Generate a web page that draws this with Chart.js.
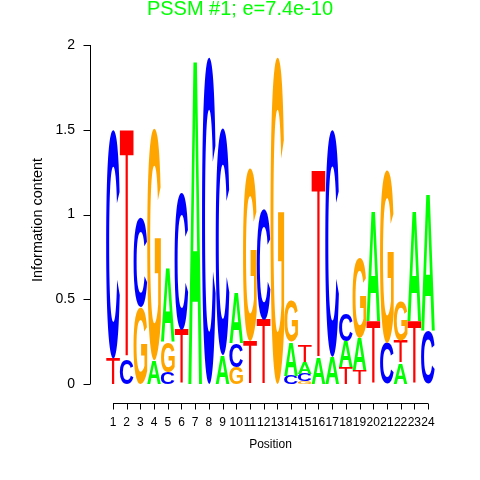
<!DOCTYPE html>
<html>
<head>
<meta charset="utf-8">
<script src="https://cdn.jsdelivr.net/npm/chart.js@4.4.0/dist/chart.umd.min.js"></script>
<style>
  html, body { margin: 0; padding: 0; background: #fff; }
</style>
</head>
<body>
<canvas id="logo" width="480" height="480"></canvas>
<script>
// data
const posities = ["1", "2", "3", "4", "5", "6", "7", "8", "9", "10", "11", "12",
                  "13", "14", "15", "16", "17", "18", "19", "20", "21", "22", "23", "24"];
const hoogteA = [0, 0, 0, 0.14, 0.44, 0, 1.93, 0, 0.17, 0.30, 0, 0, 0, 0.20, 0.07, 0.15, 0.16, 0.15, 0.19, 0.65, 0, 0.125, 0.65, 0.81];
const hoogteC = [1.35, 0.15, 0.53, 0, 0.07, 0.81, 0, 1.93, 1.34, 0.14, 0, 0.65, 0, 0.05, 0.045, 0, 1.34, 0.16, 0, 0, 0.24, 0, 0, 0.31];
const hoogteG = [0, 0, 0.45, 1.37, 0.18, 0, 0, 0, 0, 0.10, 1.02, 0, 1.93, 0.24, 0.015, 0, 0, 0, 0.47, 0, 1.02, 0.23, 0, 0];
const hoogteT = [0.15, 1.35, 0, 0, 0, 0.32, 0, 0, 0, 0, 0.25, 0.38, 0, 0, 0.10, 1.11, 0, 0.10, 0.08, 0.37, 0, 0.13, 0.37, 0];
const yTicks = [0, 0.5, 1, 1.5, 2];
const yTickLabels = ["0", "0.5", "1", "1.5", "2"];
const titel = "PSSM #1; e=7.4e-10";

const letterKleur = { A: "#00FF00", C: "#0000FF", G: "#FFA500", T: "#FF0000" };
// T is dunner in het origineel
const letterGewicht = { A: "bold", C: "bold", G: "bold", T: "normal" };

// stapel per positie, kleinste onderaan
const letters = ["A", "C", "G", "T"];
const hoogtes = [hoogteA, hoogteC, hoogteG, hoogteT];
const stapels = posities.map((p, i) =>
    letters.map((l, j) => ({ letter: l, h: hoogtes[j][i] })).sort((a, b) => a.h - b.h));

const datasets = [0, 1, 2, 3].map(r => ({
    label: "rang " + r,
    data: stapels.map(s => s[r].h),
    letters: stapels.map(s => s[r].letter),
    backgroundColor: "rgba(0,0,0,0)",
    borderWidth: 0,
    barPercentage: 1,
    categoryPercentage: 1
}));

function tekenLetter(ctx, l, x, y, w, h) {
    ctx.save();
    ctx.font = letterGewicht[l] + " 100px 'Liberation Sans'";
    const m = ctx.measureText(l);
    const gw = m.actualBoundingBoxLeft + m.actualBoundingBoxRight;
    const gh = m.actualBoundingBoxAscent + m.actualBoundingBoxDescent;
    ctx.translate(x, y);
    ctx.scale(w / gw, h / gh);
    ctx.fillStyle = letterKleur[l];
    ctx.textAlign = "left";
    ctx.textBaseline = "alphabetic";
    ctx.fillText(l, m.actualBoundingBoxLeft, m.actualBoundingBoxAscent);
    ctx.restore();
}

const logoPlugin = {
    id: "logo",
    afterDatasetsDraw(chart) {
        const ctx = chart.ctx;
        chart.data.datasets.forEach((ds, d) => {
            chart.getDatasetMeta(d).data.forEach((bar, i) => {
                const top = Math.min(bar.y, bar.base);
                const h = Math.abs(bar.base - bar.y);
                if (h < 0.5) return;
                tekenLetter(ctx, ds.letters[i], bar.x - bar.width / 2, top, bar.width, h);
            });
        });
    },
    afterDraw(chart) {
        const ctx = chart.ctx;
        const xs = chart.scales.x;
        const ys = chart.scales.y;
        ctx.save();
        ctx.strokeStyle = "#000";
        ctx.fillStyle = "#000";
        ctx.lineWidth = 1;

        // y as
        const ax = 90.5;
        ctx.beginPath();
        ctx.moveTo(ax, ys.getPixelForValue(0));
        ctx.lineTo(ax, ys.getPixelForValue(2));
        yTicks.forEach(v => {
            const py = Math.round(ys.getPixelForValue(v)) + 0.5;
            ctx.moveTo(ax, py);
            ctx.lineTo(ax - 7, py);
        });
        ctx.stroke();
        ctx.font = "14px 'Liberation Sans'";
        ctx.textAlign = "right";
        ctx.textBaseline = "middle";
        yTicks.forEach((v, k) => ctx.fillText(yTickLabels[k], 75, ys.getPixelForValue(v)));

        ctx.save();
        ctx.translate(38, 220);
        ctx.rotate(-Math.PI / 2);
        ctx.textAlign = "center";
        ctx.font = "14.5px 'Liberation Sans'";
        ctx.fillText("Information content", 0, 0);
        ctx.restore();

        // x as
        const ay = 403.5;
        ctx.beginPath();
        ctx.moveTo(xs.getPixelForValue(0), ay);
        ctx.lineTo(xs.getPixelForValue(posities.length - 1), ay);
        posities.forEach((p, i) => {
            const px = Math.round(xs.getPixelForValue(i)) + 0.5;
            ctx.moveTo(px, ay);
            ctx.lineTo(px, ay + 6);
        });
        ctx.stroke();
        ctx.font = "12px 'Liberation Sans'";
        ctx.textAlign = "center";
        posities.forEach((p, i) => ctx.fillText(p, xs.getPixelForValue(i), 423));
        ctx.fillText("Position", (xs.getPixelForValue(0) + xs.getPixelForValue(23)) / 2, 445);

        // titel
        ctx.fillStyle = letterKleur.A;
        ctx.font = "20px 'Liberation Sans'";
        ctx.fillText(titel, 240, 9);
        ctx.restore();
    }
};

new Chart(document.getElementById("logo"), {
    type: "bar",
    data: { labels: posities, datasets: datasets },
    options: {
        responsive: false,
        animation: false,
        layout: { padding: { left: 106.15, right: 45.15, top: 45, bottom: 96 } },
        scales: {
            x: { stacked: true, display: false },
            y: { stacked: true, display: false, min: 0, max: 2 }
        },
        plugins: {
            legend: { display: false },
            tooltip: { enabled: false }
        }
    },
    plugins: [logoPlugin]
});
</script>
</body>
</html>
